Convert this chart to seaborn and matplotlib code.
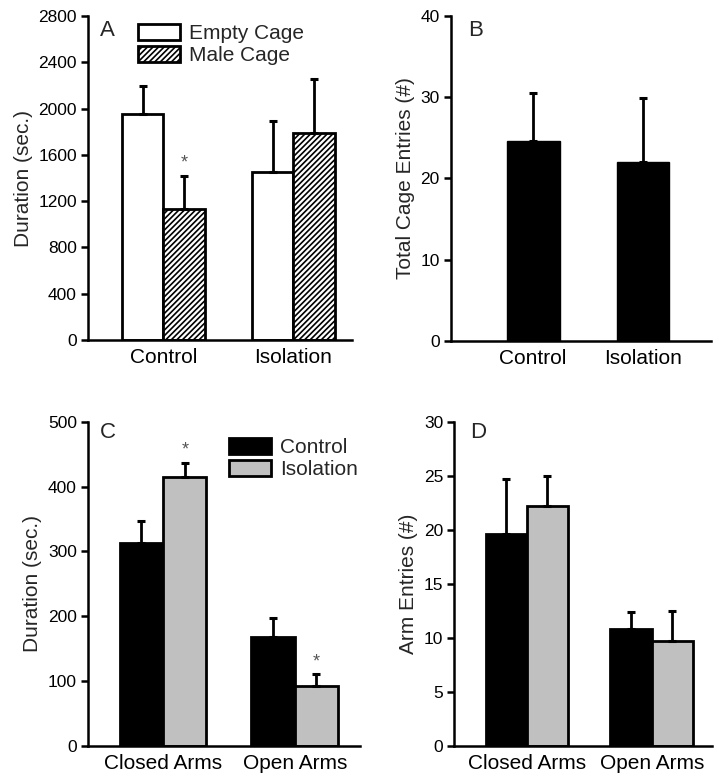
import numpy as np
import pandas as pd
import matplotlib
matplotlib.use('Agg')
import matplotlib.pyplot as plt
import seaborn as sns
from matplotlib.patches import Patch

# %% data

groups_ab = ['Control', 'Isolation']
cages = ['Empty Cage', 'Male Cage']
a_empty = [1950, 1450]
a_empty_err = [245, 440]
a_male = [1135, 1785]
a_male_err = [285, 470]

b_entries = [24.6, 22.0]
b_err = [5.9, 7.9]

arms = ['Closed Arms', 'Open Arms']
housing = ['Control', 'Isolation']
c_control = [313, 168]
c_control_err = [34, 29]
c_isolation = [415, 92]
c_isolation_err = [22, 18]

d_control = [19.6, 10.8]
d_control_err = [5.1, 1.6]
d_isolation = [22.2, 9.7]
d_isolation_err = [2.8, 2.8]

# %% style

sns.set_style('ticks')
plt.rcParams['font.family'] = ['Liberation Sans', 'DejaVu Sans']
plt.rcParams['axes.linewidth'] = 1.8
plt.rcParams['hatch.linewidth'] = 1.2
plt.rcParams['axes.edgecolor'] = 'black'
plt.rcParams['xtick.color'] = 'black'
plt.rcParams['ytick.color'] = 'black'

LABEL_FS = 15
TICK_FS = 12.5
HATCH = '//////'

fig = plt.figure(figsize=(7.19, 7.79), dpi=100)
axA = fig.add_axes([0.1224, 0.5635, 0.3672, 0.4159])
axB = fig.add_axes([0.6268, 0.5626, 0.3616, 0.4168])
axC = fig.add_axes([0.1224, 0.0427, 0.3783, 0.4159])
axD = fig.add_axes([0.6319, 0.0427, 0.3588, 0.4159])


def add_errors(ax, containers, errs):
    for bars, err in zip(containers, errs):
        for bar, e in zip(bars, err):
            x = bar.get_x() + bar.get_width() / 2
            ax.errorbar(x, bar.get_height(), yerr=[[0], [e]], color='black',
                        elinewidth=2, capsize=3, capthick=2.2, zorder=1)


def style_axis(ax, ymax, step, xlim):
    sns.despine(ax=ax)
    ax.set_ylim(0, ymax)
    ax.set_yticks(np.arange(0, ymax + 1e-9, step))
    ax.set_xlim(*xlim)
    ax.tick_params(axis='y', length=5, width=1.8, labelsize=TICK_FS, pad=3)
    ax.tick_params(axis='x', length=0, labelsize=LABEL_FS, pad=6)
    ax.set_xlabel('')


def star(ax, bar, err):
    x = bar.get_x() + bar.get_width() / 2
    ax.annotate('*', (x, bar.get_height() + err), xytext=(0, 3),
                textcoords='offset points', ha='center', va='bottom',
                fontsize=13, color='#555555')


# %% Panel A

dfA = pd.DataFrame({
    'group': groups_ab * 2,
    'cage': [cages[0]] * 2 + [cages[1]] * 2,
    'duration': a_empty + a_male,
})
sns.barplot(data=dfA, x='group', y='duration', hue='cage', palette=['white', 'white'],
            edgecolor='black', linewidth=2, width=0.64, errorbar=None,
            saturation=1, legend=False, ax=axA)
for bar in axA.containers[1]:
    bar.set_hatch(HATCH)
add_errors(axA, axA.containers, [a_empty_err, a_male_err])
star(axA, axA.containers[1][0], a_male_err[0])
style_axis(axA, 2800, 400, (-0.58, 1.45))
axA.set_ylabel('Duration (sec.)', fontsize=LABEL_FS)
handles = [Patch(facecolor='white', edgecolor='black', linewidth=2),
           Patch(facecolor='white', edgecolor='black', linewidth=2, hatch=HATCH)]
axA.legend(handles, cages, loc='upper left', bbox_to_anchor=(0.19, 0.975), frameon=False,
           fontsize=LABEL_FS, handlelength=2.0, handleheight=0.75, labelspacing=0.15,
           handletextpad=0.45, borderpad=0, borderaxespad=0)
axA.text(0.045, 0.955, 'A', transform=axA.transAxes, fontsize=LABEL_FS + 1, va='center')

# %% Panel B

dfB = pd.DataFrame({'group': groups_ab, 'entries': b_entries})
sns.barplot(data=dfB, x='group', y='entries', color='black', edgecolor='black',
            linewidth=1, width=0.48, errorbar=None, saturation=1, ax=axB)
add_errors(axB, axB.containers, [b_err])
style_axis(axB, 40, 10, (-0.75, 1.615))
axB.set_ylabel('Total Cage Entries (#)', fontsize=LABEL_FS)
axB.text(0.067, 0.955, 'B', transform=axB.transAxes, fontsize=LABEL_FS + 1, va='center')

# %% Panel C

dfC = pd.DataFrame({
    'arm': arms * 2,
    'housing': [housing[0]] * 2 + [housing[1]] * 2,
    'duration': c_control + c_isolation,
})
sns.barplot(data=dfC, x='arm', y='duration', hue='housing', palette=['black', '#c0c0c0'],
            edgecolor='black', linewidth=2, width=0.66, errorbar=None,
            saturation=1, legend=False, ax=axC)
add_errors(axC, axC.containers, [c_control_err, c_isolation_err])
for bar, e in zip(axC.containers[1], c_isolation_err):
    star(axC, bar, e)
style_axis(axC, 500, 100, (-0.57, 1.496))
axC.set_ylabel('Duration (sec.)', fontsize=LABEL_FS)
handles = [Patch(facecolor='black', edgecolor='black', linewidth=2),
           Patch(facecolor='#c0c0c0', edgecolor='black', linewidth=2)]
axC.legend(handles, housing, loc='upper left', bbox_to_anchor=(0.518, 0.95), frameon=False,
           fontsize=LABEL_FS, handlelength=2.0, handleheight=0.8, labelspacing=0.15,
           handletextpad=0.45, borderpad=0, borderaxespad=0)
axC.text(0.044, 0.966, 'C', transform=axC.transAxes, fontsize=LABEL_FS + 1, va='center')

# %% Panel D

dfD = pd.DataFrame({
    'arm': arms * 2,
    'housing': [housing[0]] * 2 + [housing[1]] * 2,
    'entries': d_control + d_isolation,
})
sns.barplot(data=dfD, x='arm', y='entries', hue='housing', palette=['black', '#c0c0c0'],
            edgecolor='black', linewidth=2, width=0.66, errorbar=None,
            saturation=1, legend=False, ax=axD)
add_errors(axD, axD.containers, [d_control_err, d_isolation_err])
style_axis(axD, 30, 5, (-0.58, 1.485))
axD.set_ylabel('Arm Entries (#)', fontsize=LABEL_FS)
axD.text(0.06, 0.966, 'D', transform=axD.transAxes, fontsize=LABEL_FS + 1, va='center')

fig.savefig('out.png', dpi=100)
